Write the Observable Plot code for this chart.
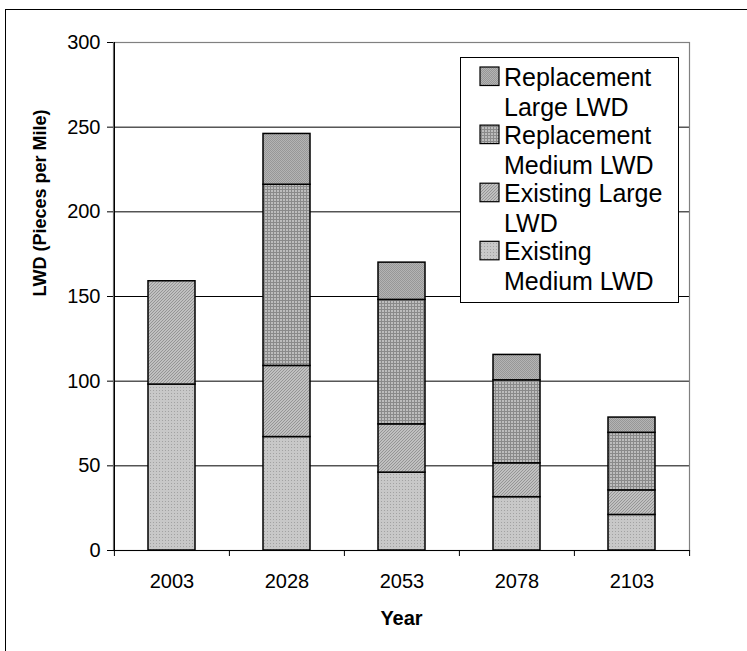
<!DOCTYPE html>
<html><head><meta charset="utf-8">
<script src="https://cdn.jsdelivr.net/npm/d3@7"></script>
<script src="https://cdn.jsdelivr.net/npm/@observablehq/plot@0.6"></script>
<style>
body{margin:0;background:#fff;font-family:"Liberation Sans",Arial,sans-serif;}
#wrap{position:relative;width:747px;height:651px;overflow:hidden;background:#fff;}
#frame{position:absolute;left:5px;top:9px;width:900px;height:900px;border:1.5px solid #000;}
#chart{position:absolute;left:0;top:0;}
#legend{position:absolute;left:460px;top:57px;}
#defs{position:absolute;left:0;top:0;width:0;height:0;}
</style></head><body>
<svg id="defs" width="0" height="0">
  <defs>
    <pattern id="pEM" width="3" height="3" patternUnits="userSpaceOnUse">
      <rect width="3" height="3" fill="#c8c8c8"/>
      <rect x="0" y="0" width="1" height="1" fill="#a2a2a2"/>
    </pattern>
    <pattern id="pEL" width="3" height="3" patternUnits="userSpaceOnUse">
      <rect width="3" height="3" fill="#c0c0c0"/>
      <rect x="2" y="0" width="1" height="1" fill="#959595"/>
      <rect x="1" y="1" width="1" height="1" fill="#959595"/>
      <rect x="0" y="2" width="1" height="1" fill="#959595"/>
    </pattern>
    <pattern id="pRM" width="3" height="3" patternUnits="userSpaceOnUse">
      <rect width="3" height="3" fill="#bdbdbd"/>
      <rect x="0" y="0" width="3" height="1" fill="#8a8a8a"/>
      <rect x="0" y="0" width="1" height="3" fill="#8a8a8a"/>
    </pattern>
    <pattern id="pRL" width="2" height="2" patternUnits="userSpaceOnUse">
      <rect width="2" height="2" fill="#b4b4b4"/>
      <rect x="0" y="0" width="1" height="1" fill="#979797"/>
      <rect x="1" y="1" width="1" height="1" fill="#979797"/>
    </pattern>
  </defs>
</svg>
<div id="wrap"><div id="frame"></div><div id="chart"></div><div id="legend"></div></div>
<script>
const years = ["2003", "2028", "2053", "2078", "2103"];
const series = ["Existing Medium LWD", "Existing Large LWD", "Replacement Medium LWD", "Replacement Large LWD"];
const existingMedium = [98, 67, 46, 31.5, 21];
const existingLarge = [61, 42, 28.5, 20, 14.5];
const replacementMedium = [0, 107, 73.5, 49, 34];
const replacementLarge = [0, 30, 22, 15, 9];
const yTicks = [0, 50, 100, 150, 200, 250, 300];
const patterns = ["url(#pEM)", "url(#pEL)", "url(#pRM)", "url(#pRL)"];
const legendOrder = [3, 2, 1, 0];
const legendLines = [["Replacement", "Large LWD"], ["Replacement", "Medium LWD"], ["Existing Large", "LWD"], ["Existing", "Medium LWD"]];

const valuesBySeries = [existingMedium, existingLarge, replacementMedium, replacementLarge];
const data = [];
years.forEach((yr, i) => {
  series.forEach((s, k) => data.push({year: yr, series: s, value: valuesBySeries[k][i]}));
});

const W = 747, H = 651, ml = 113, mr = 58, mt = 42, mb = 101;
const step = (W - ml - mr) / years.length;
const font = "Liberation Sans, Arial, sans-serif";

const chart = Plot.plot({
  width: W, height: H,
  marginLeft: ml, marginRight: mr, marginTop: mt, marginBottom: mb,
  style: {background: "transparent", fontFamily: font, fontSize: "20px", color: "#000", overflow: "visible"},
  x: {domain: years, paddingInner: 0.592, paddingOuter: 0.296, label: null},
  y: {domain: [0, 300], label: null},
  color: {domain: series, range: patterns},
  marks: [
    Plot.gridY(yTicks.filter(t => t > 0 && t < 300), {stroke: "#000", strokeOpacity: 1, strokeWidth: 1}),
    Plot.frame({stroke: "#808080", strokeWidth: 1.2}),
    Plot.barY(data, {x: "year", y: "value", fill: "series", order: series, stroke: "#000", strokeWidth: 1.5}),
    Plot.ruleY([0], {stroke: "#000", strokeWidth: 1.2}),
    Plot.ruleX([years[0]], {x: d => d, dx: -step / 2, stroke: "#000", strokeWidth: 1.2}),
    Plot.ruleX(years, {x: d => d, dx: -step / 2, y1: 0, y2: 0, insetBottom: -6, stroke: "#000"}),
    Plot.ruleX([years[years.length - 1]], {x: d => d, dx: step / 2, y1: 0, y2: 0, insetBottom: -6, stroke: "#000"}),
    Plot.axisY({ticks: yTicks, tickSize: 6, tickPadding: 7, fontSize: 20, label: null}),
    Plot.axisX({tickSize: 0, tickPadding: 23, fontSize: 20, label: null}),
    Plot.text(["LWD (Pieces per Mile)"], {frameAnchor: "left", rotate: -90, dx: -73, fontWeight: "bold", fontSize: 18}),
    Plot.text(["Year"], {frameAnchor: "bottom", dy: 74, fontWeight: "bold", fontSize: 20})
  ]
});
document.getElementById("chart").appendChild(chart);

// Legend
const lg = d3.select("#legend").append("svg").attr("width", 220).attr("height", 247)
  .style("font-family", font);
lg.append("rect").attr("x", 0.5).attr("y", 0.5).attr("width", 218).attr("height", 245)
  .attr("fill", "#fff").attr("stroke", "#000").attr("stroke-width", 1);
legendOrder.forEach((k, j) => {
  const base = 28.5 + 58.1 * j;
  lg.append("rect").attr("x", 20).attr("y", base - 18.5).attr("width", 19).attr("height", 18.5)
    .attr("fill", patterns[k]).attr("stroke", "#000").attr("stroke-width", 1.2);
  legendLines[j].forEach((t, li) => {
    lg.append("text").attr("x", 44).attr("y", base + li * 30.5).attr("font-size", 25).attr("fill", "#000").text(t);
  });
});
</script>
</body></html>
